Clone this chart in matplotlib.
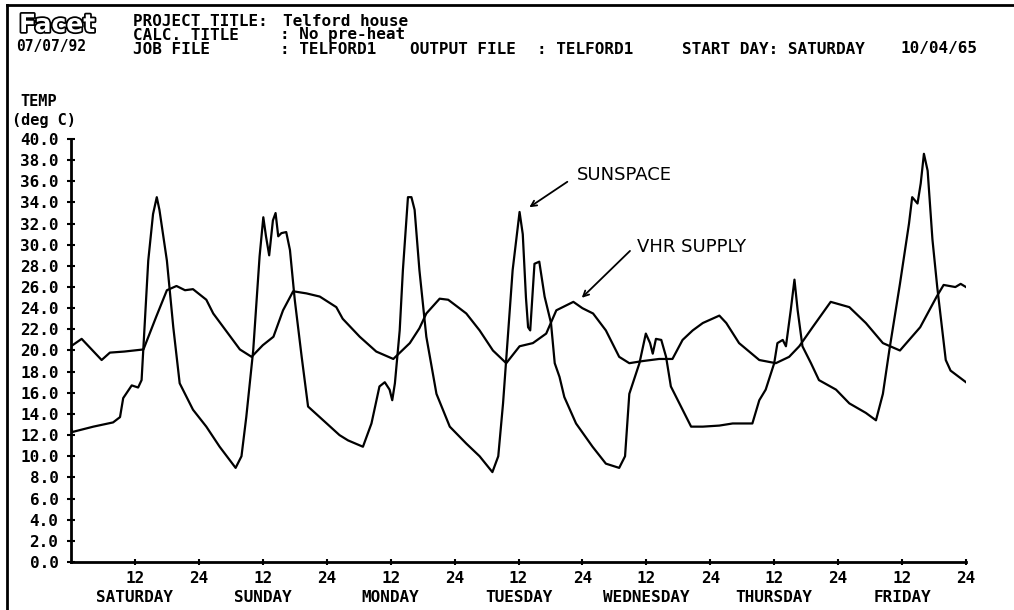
import numpy as np
import matplotlib
matplotlib.use("Agg")
import matplotlib.pyplot as plt
import matplotlib.patheffects as pe

# Sunspace temperature (hour from start of Saturday, deg C)
sun_hours = [0, 0.3, 4.2, 7.9, 9.2, 9.8, 11.4, 12.6, 13.25, 14.5, 15.4, 16.1, 16.6,
             18.0, 19.2, 20.4, 22.9, 25.4, 27.9, 30.9, 32.0, 32.9, 34.2, 35.4, 36.1,
             36.6, 37.2, 37.9, 38.4, 38.9, 39.5, 40.4, 41.1, 42.0, 43.3, 44.5, 48.0,
             50.4, 52.0, 54.8, 56.4, 57.9, 58.9, 59.8, 60.3, 60.8, 61.7, 62.3, 63.25,
             63.9, 64.5, 65.4, 66.7, 68.6, 71.1, 74.2, 76.7, 79.1, 80.2, 81.1, 82.0,
             82.9, 84.2, 84.8, 85.4, 85.8, 86.2, 87.0, 87.9, 88.9, 90.1, 90.8, 91.7,
             92.6, 94.8, 97.9, 100.4, 102.9, 104.0, 104.8, 106.7, 107.9, 108.7, 109.2,
             109.8, 110.8, 111.7, 112.6, 114.2, 116.4, 118.6, 121.7, 124.2, 127.9,
             129.2, 130.4, 132.0, 132.6, 133.6, 134.2, 135.1, 135.8, 136.4, 137.3,
             138.9, 140.4, 143.6, 146.1, 149.2, 151.1, 152.4, 153.6, 155.6, 157.3,
             157.9, 158.9, 159.5, 160.1, 160.8, 161.7, 162.6, 164.2, 165.1, 168.0]
sun_temp = [12.6, 12.3, 12.8, 13.2, 13.7, 15.5, 16.7, 16.5, 17.2, 28.5, 32.9, 34.5, 33.3,
            28.5, 22.2, 16.9, 14.4, 12.8, 10.9, 8.9, 10.0, 13.7, 20.0, 28.9, 32.6,
            30.8, 29.0, 32.3, 33.0, 30.8, 31.1, 31.2, 29.5, 24.8, 19.4, 14.7, 13.1,
            12.0, 11.5, 10.9, 13.1, 16.6, 17.0, 16.3, 15.3, 16.9, 21.9, 27.6, 34.5,
            34.5, 33.3, 27.6, 21.3, 15.9, 12.8, 11.2, 10.0, 8.5, 10.0, 15.0, 21.3,
            27.6, 33.1, 31.0, 25.0, 22.2, 21.9, 28.2, 28.4, 25.1, 22.6, 18.8, 17.5,
            15.6, 13.1, 10.9, 9.3, 8.9, 10.0, 15.9, 18.8, 21.6, 20.7, 19.7,
            21.1, 21.0, 19.4, 16.6, 15.0, 12.8, 12.8, 12.9, 13.1, 13.1,
            15.3, 16.3, 18.8, 20.7, 21.0, 20.4, 23.8, 26.7, 23.8, 20.4,
            18.8, 17.2, 16.3, 15.0, 14.1, 13.4, 15.9, 20.0, 26.3, 32.0,
            34.5, 33.9, 35.8, 38.6, 37.0, 30.5, 26.0, 19.1, 18.1, 17.0]

# VHR supply temperature
vhr_hours = [0, 2.0, 5.75, 7.3, 10.0, 13.6, 16.0, 18.0, 19.8, 21.4, 22.9, 25.4, 26.7,
             29.2, 31.7, 33.9, 36.0, 38.0, 39.8, 41.7, 44.2, 46.7, 49.8, 51.0, 54.2,
             57.3, 60.5, 63.6, 65.4, 66.7, 69.2, 70.8, 72.9, 74.2, 76.7, 79.2, 81.7,
             84.2, 86.7, 89.2, 91.1, 94.3, 96.0, 98.0, 100.4, 102.9, 104.8, 107.3,
             110.4, 112.9, 114.8, 116.7, 118.6, 121.7, 123.0, 125.4, 129.2, 132.3,
             134.8, 136.7, 139.2, 142.6, 146.1, 149.2, 152.4, 155.6, 159.4, 162.5,
             163.8, 166.0, 167.0, 168.0]
vhr_temp = [20.4, 21.1, 19.1, 19.8, 19.9, 20.1, 23.2, 25.7, 26.1, 25.7, 25.8, 24.8, 23.5,
            21.8, 20.1, 19.4, 20.5, 21.3, 23.8, 25.6, 25.4, 25.1, 24.1, 23.0, 21.3,
            19.9, 19.2, 20.7, 22.1, 23.5, 24.9, 24.8, 24.0, 23.5, 21.9, 20.0, 18.8,
            20.4, 20.7, 21.6, 23.8, 24.6, 24.0, 23.5, 21.9, 19.4, 18.8, 19.0,
            19.2, 19.2, 21.0, 21.9, 22.6, 23.3, 22.6, 20.7, 19.1, 18.8,
            19.4, 20.4, 22.2, 24.6, 24.1, 22.6, 20.7, 20.0, 22.2, 25.1,
            26.2, 26.0, 26.3, 26.0]

days = ["SATURDAY", "SUNDAY", "MONDAY", "TUESDAY", "WEDNESDAY", "THURSDAY", "FRIDAY"]
x_ticks = list(range(12, 169, 12))
x_tick_labels = ["12" if t % 24 else "24" for t in x_ticks]
y_ticks = list(range(0, 41, 2))

W, H = 1014, 610
MONO = "DejaVu Sans Mono"


def px(x, y):
    # pixel position (from top-left) -> figure fraction
    return x / W, 1 - y / H


fig = plt.figure(figsize=(W / 100, H / 100), dpi=100)
ax = fig.add_axes([71 / W, (H - 562) / H, (966 - 71) / W, (562 - 139) / H])

ax.plot(sun_hours, sun_temp, color="black", lw=1.6)
ax.plot(vhr_hours, vhr_temp, color="black", lw=1.6)

ax.set_xlim(0, 168)
ax.set_ylim(0, 40)
for s in ["top", "right"]:
    ax.spines[s].set_visible(False)
for s in ["left", "bottom"]:
    ax.spines[s].set_linewidth(2)

lab = dict(fontfamily=MONO, fontweight="bold", fontsize=11.5)
ax.set_yticks(y_ticks)
ax.set_yticklabels([f"{v:.1f}" for v in y_ticks], **lab)
ax.tick_params(axis="y", direction="inout", length=6, width=1.5, pad=6)
ax.set_xticks(x_ticks)
ax.set_xticklabels(x_tick_labels, **lab)
ax.tick_params(axis="x", direction="inout", length=5, width=1.5, pad=4)

for i, d in enumerate(days):
    ax.text(12 + 24 * i, -0.083, d, transform=ax.get_xaxis_transform(),
            ha="center", va="center", **lab)

# handwritten labels with arrows
ax.annotate("", xy=(85.6, 33.4), xytext=(93.6, 36.1),
            arrowprops=dict(arrowstyle="->", color="black", lw=1.3))
ax.text(94.9, 36.6, "SUNSPACE", ha="left", va="center", fontsize=13)
ax.annotate("", xy=(95.5, 24.8), xytext=(105.3, 29.6),
            arrowprops=dict(arrowstyle="->", color="black", lw=1.3))
ax.text(106.2, 29.8, "VHR SUPPLY", ha="left", va="center", fontsize=13)

# axis caption
fig.text(*px(20, 102), "TEMP", fontfamily=MONO, fontweight="bold", fontsize=11, va="center")
fig.text(*px(12, 121), "(deg C)", fontfamily=MONO, fontweight="bold", fontsize=11, va="center")

# header block
fig.text(*px(19, 25), "Facet", fontsize=18, fontweight="bold", color="white", va="center",
         path_effects=[pe.withStroke(linewidth=2.5, foreground="black")])
fig.text(*px(16, 46), "07/07/92", fontfamily=MONO, fontweight="bold", fontsize=10.5, va="center")
hdr = dict(fontfamily=MONO, fontweight="bold", fontsize=11.5, va="center")
fig.text(*px(133, 22), "PROJECT TITLE:", **hdr)
fig.text(*px(283, 22), "Telford house", **hdr)
fig.text(*px(133, 35), "CALC. TITLE", **hdr)
fig.text(*px(280, 35), ": No pre-heat", **hdr)
fig.text(*px(133, 49), "JOB FILE", **hdr)
fig.text(*px(280, 49), ": TELFORD1", **hdr)
fig.text(*px(410, 49), "OUTPUT FILE", **hdr)
fig.text(*px(537, 49), ": TELFORD1", **hdr)
fig.text(*px(682, 49), "START DAY: SATURDAY", **hdr)
fig.text(*px(978, 49), "10/04/65", ha="right", **hdr)

# page frame
fig.add_artist(plt.Line2D([7 / W, 7 / W], [0, 1 - 5 / H], color="black", lw=2))
fig.add_artist(plt.Line2D([7 / W, 1], [1 - 5 / H, 1 - 5 / H], color="black", lw=2))

fig.savefig("out.png", dpi=100)
